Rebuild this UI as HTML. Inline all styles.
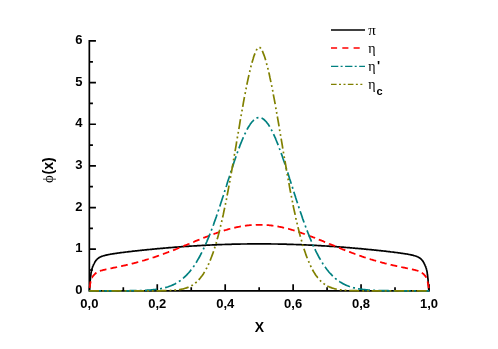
<!DOCTYPE html>
<html><head><meta charset="utf-8"><title>plot</title>
<style>html,body{margin:0;padding:0;background:#fff;}body{width:498px;height:349px;overflow:hidden;position:relative;font-family:"Liberation Sans",sans-serif;}svg{position:absolute;left:0;top:0;display:block;will-change:transform}</style>
</head><body>
<svg width="498" height="349" viewBox="0 0 498 349">
<rect width="498" height="349" fill="#fff"/>
<path d="M89.34,40.11 L89.34,291.69 M88.49,290.84 L429.84,290.84 M89.34,290.84 L95.94,290.84 M89.34,249.19 L95.94,249.19 M89.34,207.55 L95.94,207.55 M89.34,165.90 L95.94,165.90 M89.34,124.25 L95.94,124.25 M89.34,82.61 L95.94,82.61 M89.34,40.96 L95.94,40.96 M89.34,270.02 L92.94,270.02 M89.34,228.37 L92.94,228.37 M89.34,186.72 L92.94,186.72 M89.34,145.08 L92.94,145.08 M89.34,103.43 L92.94,103.43 M89.34,61.78 L92.94,61.78 M89.34,290.84 L89.34,284.24 M123.31,290.84 L123.31,287.24 M157.27,290.84 L157.27,284.24 M191.24,290.84 L191.24,287.24 M225.20,290.84 L225.20,284.24 M259.16,290.84 L259.16,287.24 M293.13,290.84 L293.13,284.24 M327.09,290.84 L327.09,287.24 M361.06,290.84 L361.06,284.24 M395.02,290.84 L395.02,287.24 M428.99,290.84 L428.99,284.24" stroke="#000" stroke-width="1.7" fill="none"/>
<g fill="none" stroke-linejoin="round">
<path d="M89.3,290.8 L89.5,290.4 L89.6,289.1 L89.7,287.3 L89.9,285.4 L90.0,283.7 L90.0,283.2 L90.1,282.0 L90.2,280.5 L90.4,279.1 L90.5,277.8 L90.6,276.6 L90.7,276.0 L90.8,275.5 L90.9,274.5 L91.0,273.5 L91.1,272.7 L91.3,271.9 L91.4,271.4 L91.4,271.2 L91.5,270.6 L91.7,270.0 L91.8,269.5 L91.9,269.0 L92.0,268.6 L92.1,268.5 L92.2,268.1 L92.3,267.8 L92.4,267.4 L92.6,267.0 L92.7,266.7 L92.7,266.6 L92.8,266.4 L93.0,266.1 L93.1,265.8 L93.2,265.5 L93.3,265.2 L93.4,265.0 L93.5,264.9 L93.6,264.6 L93.7,264.4 L93.9,264.1 L94.0,263.8 L94.1,263.6 L94.1,263.6 L94.2,263.3 L94.4,263.1 L94.5,262.8 L94.6,262.6 L94.8,262.4 L94.8,262.3 L94.9,262.1 L95.0,261.9 L95.1,261.7 L95.3,261.5 L95.4,261.3 L95.5,261.2 L95.5,261.1 L95.7,260.9 L95.8,260.7 L95.9,260.6 L96.0,260.4 L96.1,260.3 L96.2,260.2 L96.3,260.1 L96.4,259.9 L96.6,259.8 L96.7,259.6 L96.8,259.5 L96.8,259.5 L96.9,259.3 L97.1,259.2 L97.2,259.1 L97.3,259.0 L97.5,258.8 L97.5,258.8 L97.6,258.7 L97.7,258.6 L97.9,258.5 L98.0,258.4 L98.1,258.3 L98.2,258.3 L98.2,258.2 L98.4,258.1 L98.5,258.0 L98.6,257.9 L98.8,257.9 L98.9,257.8 L98.9,257.8 L99.0,257.7 L99.1,257.6 L99.3,257.5 L99.4,257.5 L99.5,257.4 L100.2,257.0 L100.9,256.7 L101.6,256.4 L102.2,256.2 L102.9,256.0 L103.6,255.8 L104.3,255.6 L105.0,255.4 L105.6,255.2 L106.3,255.1 L107.0,254.9 L107.7,254.8 L108.4,254.6 L109.0,254.5 L109.7,254.4 L110.4,254.2 L111.1,254.1 L111.8,254.0 L112.4,253.9 L113.1,253.8 L113.8,253.7 L114.5,253.6 L115.2,253.5 L115.8,253.4 L116.5,253.3 L117.2,253.2 L117.9,253.1 L118.5,253.0 L119.2,252.9 L119.9,252.8 L120.6,252.7 L121.3,252.6 L121.9,252.5 L122.6,252.5 L123.3,252.4 L124.0,252.3 L124.7,252.2 L125.3,252.1 L126.0,252.0 L126.7,252.0 L127.4,251.9 L128.1,251.8 L128.7,251.7 L129.4,251.6 L130.1,251.6 L130.8,251.5 L131.5,251.4 L132.1,251.3 L132.8,251.2 L133.5,251.2 L134.2,251.1 L134.9,251.0 L135.5,250.9 L136.2,250.9 L136.9,250.8 L137.6,250.7 L138.2,250.6 L138.9,250.6 L139.6,250.5 L140.3,250.4 L141.0,250.4 L141.6,250.3 L142.3,250.2 L143.0,250.1 L143.7,250.1 L144.4,250.0 L145.0,249.9 L145.7,249.9 L146.4,249.8 L147.1,249.7 L147.8,249.7 L148.4,249.6 L149.1,249.5 L149.8,249.5 L150.5,249.4 L151.2,249.3 L151.8,249.3 L152.5,249.2 L153.2,249.1 L153.9,249.1 L154.6,249.0 L155.2,248.9 L155.9,248.9 L156.6,248.8 L157.3,248.7 L157.9,248.7 L158.6,248.6 L159.3,248.6 L160.0,248.5 L160.7,248.4 L161.3,248.4 L162.0,248.3 L162.7,248.3 L163.4,248.2 L164.1,248.1 L164.7,248.1 L165.4,248.0 L166.1,248.0 L166.8,247.9 L167.5,247.9 L168.1,247.8 L168.8,247.7 L169.5,247.7 L170.2,247.6 L170.9,247.6 L171.5,247.5 L172.2,247.5 L172.9,247.4 L173.6,247.4 L174.3,247.3 L174.9,247.2 L175.6,247.2 L176.3,247.1 L177.0,247.1 L177.6,247.0 L178.3,247.0 L179.0,246.9 L179.7,246.9 L180.4,246.8 L181.0,246.8 L181.7,246.7 L182.4,246.7 L183.1,246.6 L183.8,246.6 L184.4,246.5 L185.1,246.5 L185.8,246.4 L186.5,246.4 L187.2,246.4 L187.8,246.3 L188.5,246.3 L189.2,246.2 L189.9,246.2 L190.6,246.1 L191.2,246.1 L191.9,246.0 L192.6,246.0 L193.3,246.0 L194.0,245.9 L194.6,245.9 L195.3,245.8 L196.0,245.8 L196.7,245.8 L197.3,245.7 L198.0,245.7 L198.7,245.6 L199.4,245.6 L200.1,245.6 L200.7,245.5 L201.4,245.5 L202.1,245.4 L202.8,245.4 L203.5,245.4 L204.1,245.3 L204.8,245.3 L205.5,245.3 L206.2,245.2 L206.9,245.2 L207.5,245.2 L208.2,245.1 L208.9,245.1 L209.6,245.1 L210.3,245.0 L210.9,245.0 L211.6,245.0 L212.3,244.9 L213.0,244.9 L213.7,244.9 L214.3,244.9 L215.0,244.8 L215.7,244.8 L216.4,244.8 L217.0,244.7 L217.7,244.7 L218.4,244.7 L219.1,244.7 L219.8,244.6 L220.4,244.6 L221.1,244.6 L221.8,244.6 L222.5,244.5 L223.2,244.5 L223.8,244.5 L224.5,244.5 L225.2,244.4 L225.9,244.4 L226.6,244.4 L227.2,244.4 L227.9,244.4 L228.6,244.3 L229.3,244.3 L230.0,244.3 L230.6,244.3 L231.3,244.3 L232.0,244.2 L232.7,244.2 L233.4,244.2 L234.0,244.2 L234.7,244.2 L235.4,244.2 L236.1,244.1 L236.7,244.1 L237.4,244.1 L238.1,244.1 L238.8,244.1 L239.5,244.1 L240.1,244.1 L240.8,244.0 L241.5,244.0 L242.2,244.0 L242.9,244.0 L243.5,244.0 L244.2,244.0 L244.9,244.0 L245.6,244.0 L246.3,244.0 L246.9,244.0 L247.6,243.9 L248.3,243.9 L249.0,243.9 L249.7,243.9 L250.3,243.9 L251.0,243.9 L251.7,243.9 L252.4,243.9 L253.1,243.9 L253.7,243.9 L254.4,243.9 L255.1,243.9 L255.8,243.9 L256.4,243.9 L257.1,243.9 L257.8,243.9 L258.5,243.9 L259.2,243.9 L259.8,243.9 L260.5,243.9 L261.2,243.9 L261.9,243.9 L262.6,243.9 L263.2,243.9 L263.9,243.9 L264.6,243.9 L265.3,243.9 L266.0,243.9 L266.6,243.9 L267.3,243.9 L268.0,243.9 L268.7,243.9 L269.4,243.9 L270.0,243.9 L270.7,243.9 L271.4,244.0 L272.1,244.0 L272.8,244.0 L273.4,244.0 L274.1,244.0 L274.8,244.0 L275.5,244.0 L276.1,244.0 L276.8,244.0 L277.5,244.0 L278.2,244.1 L278.9,244.1 L279.5,244.1 L280.2,244.1 L280.9,244.1 L281.6,244.1 L282.3,244.1 L282.9,244.2 L283.6,244.2 L284.3,244.2 L285.0,244.2 L285.7,244.2 L286.3,244.2 L287.0,244.3 L287.7,244.3 L288.4,244.3 L289.1,244.3 L289.7,244.3 L290.4,244.4 L291.1,244.4 L291.8,244.4 L292.5,244.4 L293.1,244.4 L293.8,244.5 L294.5,244.5 L295.2,244.5 L295.8,244.5 L296.5,244.6 L297.2,244.6 L297.9,244.6 L298.6,244.6 L299.2,244.7 L299.9,244.7 L300.6,244.7 L301.3,244.7 L302.0,244.8 L302.6,244.8 L303.3,244.8 L304.0,244.9 L304.7,244.9 L305.4,244.9 L306.0,244.9 L306.7,245.0 L307.4,245.0 L308.1,245.0 L308.8,245.1 L309.4,245.1 L310.1,245.1 L310.8,245.2 L311.5,245.2 L312.2,245.2 L312.8,245.3 L313.5,245.3 L314.2,245.3 L314.9,245.4 L315.5,245.4 L316.2,245.4 L316.9,245.5 L317.6,245.5 L318.3,245.6 L318.9,245.6 L319.6,245.6 L320.3,245.7 L321.0,245.7 L321.7,245.8 L322.3,245.8 L323.0,245.8 L323.7,245.9 L324.4,245.9 L325.1,246.0 L325.7,246.0 L326.4,246.0 L327.1,246.1 L327.8,246.1 L328.5,246.2 L329.1,246.2 L329.8,246.3 L330.5,246.3 L331.2,246.4 L331.9,246.4 L332.5,246.4 L333.2,246.5 L333.9,246.5 L334.6,246.6 L335.2,246.6 L335.9,246.7 L336.6,246.7 L337.3,246.8 L338.0,246.8 L338.6,246.9 L339.3,246.9 L340.0,247.0 L340.7,247.0 L341.4,247.1 L342.0,247.1 L342.7,247.2 L343.4,247.2 L344.1,247.3 L344.8,247.4 L345.4,247.4 L346.1,247.5 L346.8,247.5 L347.5,247.6 L348.2,247.6 L348.8,247.7 L349.5,247.7 L350.2,247.8 L350.9,247.9 L351.5,247.9 L352.2,248.0 L352.9,248.0 L353.6,248.1 L354.3,248.1 L354.9,248.2 L355.6,248.3 L356.3,248.3 L357.0,248.4 L357.7,248.4 L358.3,248.5 L359.0,248.6 L359.7,248.6 L360.4,248.7 L361.1,248.7 L361.7,248.8 L362.4,248.9 L363.1,248.9 L363.8,249.0 L364.5,249.1 L365.1,249.1 L365.8,249.2 L366.5,249.3 L367.2,249.3 L367.9,249.4 L368.5,249.5 L369.2,249.5 L369.9,249.6 L370.6,249.7 L371.2,249.7 L371.9,249.8 L372.6,249.9 L373.3,249.9 L374.0,250.0 L374.6,250.1 L375.3,250.1 L376.0,250.2 L376.7,250.3 L377.4,250.4 L378.0,250.4 L378.7,250.5 L379.4,250.6 L380.1,250.6 L380.8,250.7 L381.4,250.8 L382.1,250.9 L382.8,250.9 L383.5,251.0 L384.2,251.1 L384.8,251.2 L385.5,251.2 L386.2,251.3 L386.9,251.4 L387.6,251.5 L388.2,251.6 L388.9,251.6 L389.6,251.7 L390.3,251.8 L390.9,251.9 L391.6,252.0 L392.3,252.0 L393.0,252.1 L393.7,252.2 L394.3,252.3 L395.0,252.4 L395.7,252.5 L396.4,252.5 L397.1,252.6 L397.7,252.7 L398.4,252.8 L399.1,252.9 L399.8,253.0 L400.5,253.1 L401.1,253.2 L401.8,253.3 L402.5,253.4 L403.2,253.5 L403.9,253.6 L404.5,253.7 L405.2,253.8 L405.9,253.9 L406.6,254.0 L407.3,254.1 L407.9,254.2 L408.6,254.4 L409.3,254.5 L410.0,254.6 L410.6,254.8 L411.3,254.9 L412.0,255.1 L412.7,255.2 L413.4,255.4 L414.0,255.6 L414.7,255.8 L415.4,256.0 L416.1,256.2 L416.8,256.4 L417.4,256.7 L418.1,257.0 L418.8,257.4 L418.9,257.5 L419.1,257.5 L419.2,257.6 L419.3,257.7 L419.4,257.8 L419.5,257.8 L419.6,257.9 L419.7,257.9 L419.8,258.0 L420.0,258.1 L420.1,258.2 L420.2,258.3 L420.2,258.3 L420.3,258.4 L420.5,258.5 L420.6,258.6 L420.7,258.7 L420.8,258.8 L420.9,258.8 L421.0,259.0 L421.1,259.1 L421.3,259.2 L421.4,259.3 L421.5,259.5 L421.5,259.5 L421.6,259.6 L421.8,259.8 L421.9,259.9 L422.0,260.1 L422.2,260.2 L422.2,260.3 L422.3,260.4 L422.4,260.6 L422.5,260.7 L422.7,260.9 L422.8,261.1 L422.9,261.2 L422.9,261.3 L423.1,261.5 L423.2,261.7 L423.3,261.9 L423.4,262.1 L423.6,262.3 L423.6,262.4 L423.7,262.6 L423.8,262.8 L424.0,263.1 L424.1,263.3 L424.2,263.6 L424.2,263.6 L424.3,263.8 L424.5,264.1 L424.6,264.4 L424.7,264.6 L424.9,264.9 L424.9,265.0 L425.0,265.2 L425.1,265.5 L425.2,265.8 L425.4,266.1 L425.5,266.4 L425.6,266.6 L425.6,266.7 L425.8,267.0 L425.9,267.4 L426.0,267.8 L426.2,268.1 L426.3,268.5 L426.3,268.6 L426.4,269.0 L426.5,269.5 L426.7,270.0 L426.8,270.6 L426.9,271.2 L427.0,271.4 L427.1,271.9 L427.2,272.7 L427.3,273.5 L427.4,274.5 L427.6,275.5 L427.6,276.0 L427.7,276.6 L427.8,277.8 L428.0,279.1 L428.1,280.5 L428.2,282.0 L428.3,283.2 L428.3,283.7 L428.5,285.4 L428.6,287.3 L428.7,289.1 L428.9,290.4 L429.0,290.8" stroke="#000" stroke-width="1.7"/>
<path d="M89.3,289.3 L89.5,289.0 L89.6,288.3 L89.7,287.4 L89.9,286.4 L90.0,285.5 L90.0,285.3 L90.1,284.6 L90.2,283.8 L90.4,283.1 L90.5,282.4 L90.6,281.8 L90.7,281.4 L90.8,281.2 L90.9,280.7 L91.0,280.2 L91.1,279.7 L91.3,279.3 L91.4,279.0 L91.4,278.9 L91.5,278.6 L91.7,278.3 L91.8,278.0 L91.9,277.8 L92.0,277.5 L92.1,277.5 L92.2,277.3 L92.3,277.1 L92.4,276.9 L92.6,276.7 L92.7,276.5 L92.7,276.4 L92.8,276.3 L93.0,276.2 L93.1,276.0 L93.2,275.8 L93.3,275.7 L93.4,275.6 L93.5,275.5 L93.6,275.4 L93.7,275.2 L93.9,275.1 L94.0,274.9 L94.1,274.8 L94.1,274.8 L94.2,274.6 L94.4,274.5 L94.5,274.4 L94.6,274.2 L94.8,274.1 L94.8,274.1 L94.9,274.0 L95.0,273.8 L95.1,273.7 L95.3,273.6 L95.4,273.5 L95.5,273.5 L95.5,273.4 L95.7,273.3 L95.8,273.2 L95.9,273.1 L96.0,273.0 L96.1,272.9 L96.2,272.9 L96.3,272.8 L96.4,272.7 L96.6,272.6 L96.7,272.5 L96.8,272.4 L96.8,272.4 L96.9,272.4 L97.1,272.3 L97.2,272.2 L97.3,272.1 L97.5,272.1 L97.5,272.0 L97.6,272.0 L97.7,271.9 L97.9,271.9 L98.0,271.8 L98.1,271.7 L98.2,271.7 L98.2,271.7 L98.4,271.6 L98.5,271.6 L98.6,271.5 L98.8,271.4 L98.9,271.4 L98.9,271.4 L99.0,271.3 L99.1,271.3 L99.3,271.2 L99.4,271.2 L99.5,271.1 L100.2,270.9 L100.9,270.7 L101.6,270.5 L102.2,270.3 L102.9,270.1 L103.6,269.9 L104.3,269.8 L105.0,269.6 L105.6,269.5 L106.3,269.3 L107.0,269.2 L107.7,269.0 L108.4,268.9 L109.0,268.7 L109.7,268.6 L110.4,268.4 L111.1,268.3 L111.8,268.2 L112.4,268.0 L113.1,267.9 L113.8,267.7 L114.5,267.6 L115.2,267.5 L115.8,267.3 L116.5,267.2 L117.2,267.0 L117.9,266.9 L118.5,266.8 L119.2,266.6 L119.9,266.5 L120.6,266.3 L121.3,266.2 L121.9,266.0 L122.6,265.9 L123.3,265.7 L124.0,265.6 L124.7,265.4 L125.3,265.3 L126.0,265.1 L126.7,264.9 L127.4,264.8 L128.1,264.6 L128.7,264.5 L129.4,264.3 L130.1,264.1 L130.8,264.0 L131.5,263.8 L132.1,263.6 L132.8,263.5 L133.5,263.3 L134.2,263.1 L134.9,262.9 L135.5,262.8 L136.2,262.6 L136.9,262.4 L137.6,262.2 L138.2,262.0 L138.9,261.8 L139.6,261.6 L140.3,261.5 L141.0,261.3 L141.6,261.1 L142.3,260.9 L143.0,260.7 L143.7,260.5 L144.4,260.3 L145.0,260.1 L145.7,259.9 L146.4,259.7 L147.1,259.5 L147.8,259.3 L148.4,259.0 L149.1,258.8 L149.8,258.6 L150.5,258.4 L151.2,258.2 L151.8,258.0 L152.5,257.7 L153.2,257.5 L153.9,257.3 L154.6,257.1 L155.2,256.8 L155.9,256.6 L156.6,256.4 L157.3,256.1 L157.9,255.9 L158.6,255.7 L159.3,255.4 L160.0,255.2 L160.7,255.0 L161.3,254.7 L162.0,254.5 L162.7,254.2 L163.4,254.0 L164.1,253.7 L164.7,253.5 L165.4,253.2 L166.1,253.0 L166.8,252.7 L167.5,252.5 L168.1,252.2 L168.8,251.9 L169.5,251.7 L170.2,251.4 L170.9,251.2 L171.5,250.9 L172.2,250.6 L172.9,250.4 L173.6,250.1 L174.3,249.8 L174.9,249.6 L175.6,249.3 L176.3,249.0 L177.0,248.8 L177.6,248.5 L178.3,248.2 L179.0,247.9 L179.7,247.7 L180.4,247.4 L181.0,247.1 L181.7,246.8 L182.4,246.6 L183.1,246.3 L183.8,246.0 L184.4,245.7 L185.1,245.4 L185.8,245.2 L186.5,244.9 L187.2,244.6 L187.8,244.3 L188.5,244.0 L189.2,243.8 L189.9,243.5 L190.6,243.2 L191.2,242.9 L191.9,242.6 L192.6,242.3 L193.3,242.1 L194.0,241.8 L194.6,241.5 L195.3,241.2 L196.0,240.9 L196.7,240.7 L197.3,240.4 L198.0,240.1 L198.7,239.8 L199.4,239.6 L200.1,239.3 L200.7,239.0 L201.4,238.7 L202.1,238.5 L202.8,238.2 L203.5,237.9 L204.1,237.6 L204.8,237.4 L205.5,237.1 L206.2,236.8 L206.9,236.6 L207.5,236.3 L208.2,236.1 L208.9,235.8 L209.6,235.5 L210.3,235.3 L210.9,235.0 L211.6,234.8 L212.3,234.5 L213.0,234.3 L213.7,234.0 L214.3,233.8 L215.0,233.5 L215.7,233.3 L216.4,233.1 L217.0,232.8 L217.7,232.6 L218.4,232.4 L219.1,232.1 L219.8,231.9 L220.4,231.7 L221.1,231.5 L221.8,231.2 L222.5,231.0 L223.2,230.8 L223.8,230.6 L224.5,230.4 L225.2,230.2 L225.9,230.0 L226.6,229.8 L227.2,229.6 L227.9,229.4 L228.6,229.2 L229.3,229.0 L230.0,228.8 L230.6,228.7 L231.3,228.5 L232.0,228.3 L232.7,228.1 L233.4,228.0 L234.0,227.8 L234.7,227.7 L235.4,227.5 L236.1,227.4 L236.7,227.2 L237.4,227.1 L238.1,226.9 L238.8,226.8 L239.5,226.7 L240.1,226.5 L240.8,226.4 L241.5,226.3 L242.2,226.2 L242.9,226.1 L243.5,226.0 L244.2,225.9 L244.9,225.8 L245.6,225.7 L246.3,225.6 L246.9,225.5 L247.6,225.4 L248.3,225.4 L249.0,225.3 L249.7,225.2 L250.3,225.2 L251.0,225.1 L251.7,225.1 L252.4,225.0 L253.1,225.0 L253.7,224.9 L254.4,224.9 L255.1,224.9 L255.8,224.8 L256.4,224.8 L257.1,224.8 L257.8,224.8 L258.5,224.8 L259.2,224.8 L259.8,224.8 L260.5,224.8 L261.2,224.8 L261.9,224.8 L262.6,224.8 L263.2,224.9 L263.9,224.9 L264.6,224.9 L265.3,225.0 L266.0,225.0 L266.6,225.1 L267.3,225.1 L268.0,225.2 L268.7,225.2 L269.4,225.3 L270.0,225.4 L270.7,225.4 L271.4,225.5 L272.1,225.6 L272.8,225.7 L273.4,225.8 L274.1,225.9 L274.8,226.0 L275.5,226.1 L276.1,226.2 L276.8,226.3 L277.5,226.4 L278.2,226.5 L278.9,226.7 L279.5,226.8 L280.2,226.9 L280.9,227.1 L281.6,227.2 L282.3,227.4 L282.9,227.5 L283.6,227.7 L284.3,227.8 L285.0,228.0 L285.7,228.1 L286.3,228.3 L287.0,228.5 L287.7,228.7 L288.4,228.8 L289.1,229.0 L289.7,229.2 L290.4,229.4 L291.1,229.6 L291.8,229.8 L292.5,230.0 L293.1,230.2 L293.8,230.4 L294.5,230.6 L295.2,230.8 L295.8,231.0 L296.5,231.2 L297.2,231.5 L297.9,231.7 L298.6,231.9 L299.2,232.1 L299.9,232.4 L300.6,232.6 L301.3,232.8 L302.0,233.1 L302.6,233.3 L303.3,233.5 L304.0,233.8 L304.7,234.0 L305.4,234.3 L306.0,234.5 L306.7,234.8 L307.4,235.0 L308.1,235.3 L308.8,235.5 L309.4,235.8 L310.1,236.1 L310.8,236.3 L311.5,236.6 L312.2,236.8 L312.8,237.1 L313.5,237.4 L314.2,237.6 L314.9,237.9 L315.5,238.2 L316.2,238.5 L316.9,238.7 L317.6,239.0 L318.3,239.3 L318.9,239.6 L319.6,239.8 L320.3,240.1 L321.0,240.4 L321.7,240.7 L322.3,240.9 L323.0,241.2 L323.7,241.5 L324.4,241.8 L325.1,242.1 L325.7,242.3 L326.4,242.6 L327.1,242.9 L327.8,243.2 L328.5,243.5 L329.1,243.8 L329.8,244.0 L330.5,244.3 L331.2,244.6 L331.9,244.9 L332.5,245.2 L333.2,245.4 L333.9,245.7 L334.6,246.0 L335.2,246.3 L335.9,246.6 L336.6,246.8 L337.3,247.1 L338.0,247.4 L338.6,247.7 L339.3,247.9 L340.0,248.2 L340.7,248.5 L341.4,248.8 L342.0,249.0 L342.7,249.3 L343.4,249.6 L344.1,249.8 L344.8,250.1 L345.4,250.4 L346.1,250.6 L346.8,250.9 L347.5,251.2 L348.2,251.4 L348.8,251.7 L349.5,251.9 L350.2,252.2 L350.9,252.5 L351.5,252.7 L352.2,253.0 L352.9,253.2 L353.6,253.5 L354.3,253.7 L354.9,254.0 L355.6,254.2 L356.3,254.5 L357.0,254.7 L357.7,255.0 L358.3,255.2 L359.0,255.4 L359.7,255.7 L360.4,255.9 L361.1,256.1 L361.7,256.4 L362.4,256.6 L363.1,256.8 L363.8,257.1 L364.5,257.3 L365.1,257.5 L365.8,257.7 L366.5,258.0 L367.2,258.2 L367.9,258.4 L368.5,258.6 L369.2,258.8 L369.9,259.0 L370.6,259.3 L371.2,259.5 L371.9,259.7 L372.6,259.9 L373.3,260.1 L374.0,260.3 L374.6,260.5 L375.3,260.7 L376.0,260.9 L376.7,261.1 L377.4,261.3 L378.0,261.5 L378.7,261.6 L379.4,261.8 L380.1,262.0 L380.8,262.2 L381.4,262.4 L382.1,262.6 L382.8,262.8 L383.5,262.9 L384.2,263.1 L384.8,263.3 L385.5,263.5 L386.2,263.6 L386.9,263.8 L387.6,264.0 L388.2,264.1 L388.9,264.3 L389.6,264.5 L390.3,264.6 L390.9,264.8 L391.6,264.9 L392.3,265.1 L393.0,265.3 L393.7,265.4 L394.3,265.6 L395.0,265.7 L395.7,265.9 L396.4,266.0 L397.1,266.2 L397.7,266.3 L398.4,266.5 L399.1,266.6 L399.8,266.8 L400.5,266.9 L401.1,267.0 L401.8,267.2 L402.5,267.3 L403.2,267.5 L403.9,267.6 L404.5,267.7 L405.2,267.9 L405.9,268.0 L406.6,268.2 L407.3,268.3 L407.9,268.4 L408.6,268.6 L409.3,268.7 L410.0,268.9 L410.6,269.0 L411.3,269.2 L412.0,269.3 L412.7,269.5 L413.4,269.6 L414.0,269.8 L414.7,269.9 L415.4,270.1 L416.1,270.3 L416.8,270.5 L417.4,270.7 L418.1,270.9 L418.8,271.1 L418.9,271.2 L419.1,271.2 L419.2,271.3 L419.3,271.3 L419.4,271.4 L419.5,271.4 L419.6,271.4 L419.7,271.5 L419.8,271.6 L420.0,271.6 L420.1,271.7 L420.2,271.7 L420.2,271.7 L420.3,271.8 L420.5,271.9 L420.6,271.9 L420.7,272.0 L420.8,272.0 L420.9,272.1 L421.0,272.1 L421.1,272.2 L421.3,272.3 L421.4,272.4 L421.5,272.4 L421.5,272.4 L421.6,272.5 L421.8,272.6 L421.9,272.7 L422.0,272.8 L422.2,272.9 L422.2,272.9 L422.3,273.0 L422.4,273.1 L422.5,273.2 L422.7,273.3 L422.8,273.4 L422.9,273.5 L422.9,273.5 L423.1,273.6 L423.2,273.7 L423.3,273.8 L423.4,274.0 L423.6,274.1 L423.6,274.1 L423.7,274.2 L423.8,274.4 L424.0,274.5 L424.1,274.6 L424.2,274.8 L424.2,274.8 L424.3,274.9 L424.5,275.1 L424.6,275.2 L424.7,275.4 L424.9,275.5 L424.9,275.6 L425.0,275.7 L425.1,275.8 L425.2,276.0 L425.4,276.2 L425.5,276.3 L425.6,276.4 L425.6,276.5 L425.8,276.7 L425.9,276.9 L426.0,277.1 L426.2,277.3 L426.3,277.5 L426.3,277.5 L426.4,277.8 L426.5,278.0 L426.7,278.3 L426.8,278.6 L426.9,278.9 L427.0,279.0 L427.1,279.3 L427.2,279.7 L427.3,280.2 L427.4,280.7 L427.6,281.2 L427.6,281.4 L427.7,281.8 L427.8,282.4 L428.0,283.1 L428.1,283.8 L428.2,284.6 L428.3,285.3 L428.3,285.5 L428.5,286.4 L428.6,287.4 L428.7,288.3 L428.9,289.0 L429.0,289.3" stroke="#ff0000" stroke-width="1.8" stroke-dasharray="6.8 4.1" stroke-dashoffset="9.5"/>
<path d="M89.3,290.8 L89.5,290.8 L89.6,290.8 L89.7,290.8 L89.9,290.8 L90.0,290.8 L90.0,290.8 L90.1,290.8 L90.2,290.8 L90.4,290.8 L90.5,290.8 L90.6,290.8 L90.7,290.8 L90.8,290.8 L90.9,290.8 L91.0,290.8 L91.1,290.8 L91.3,290.8 L91.4,290.8 L91.4,290.8 L91.5,290.8 L91.7,290.8 L91.8,290.8 L91.9,290.8 L92.0,290.8 L92.1,290.8 L92.2,290.8 L92.3,290.8 L92.4,290.8 L92.6,290.8 L92.7,290.8 L92.7,290.8 L92.8,290.8 L93.0,290.8 L93.1,290.8 L93.2,290.8 L93.3,290.8 L93.4,290.8 L93.5,290.8 L93.6,290.8 L93.7,290.8 L93.9,290.8 L94.0,290.8 L94.1,290.8 L94.1,290.8 L94.2,290.8 L94.4,290.8 L94.5,290.8 L94.6,290.8 L94.8,290.8 L94.8,290.8 L94.9,290.8 L95.0,290.8 L95.1,290.8 L95.3,290.8 L95.4,290.8 L95.5,290.8 L95.5,290.8 L95.7,290.8 L95.8,290.8 L95.9,290.8 L96.0,290.8 L96.1,290.8 L96.2,290.8 L96.3,290.8 L96.4,290.8 L96.6,290.8 L96.7,290.8 L96.8,290.8 L96.8,290.8 L96.9,290.8 L97.1,290.8 L97.2,290.8 L97.3,290.8 L97.5,290.8 L97.5,290.8 L97.6,290.8 L97.7,290.8 L97.9,290.8 L98.0,290.8 L98.1,290.8 L98.2,290.8 L98.2,290.8 L98.4,290.8 L98.5,290.8 L98.6,290.8 L98.8,290.8 L98.9,290.8 L98.9,290.8 L99.0,290.8 L99.1,290.8 L99.3,290.8 L99.4,290.8 L99.5,290.8 L100.2,290.8 L100.9,290.8 L101.6,290.8 L102.2,290.8 L102.9,290.8 L103.6,290.8 L104.3,290.8 L105.0,290.8 L105.6,290.8 L106.3,290.8 L107.0,290.8 L107.7,290.8 L108.4,290.8 L109.0,290.8 L109.7,290.8 L110.4,290.8 L111.1,290.8 L111.8,290.8 L112.4,290.8 L113.1,290.8 L113.8,290.8 L114.5,290.8 L115.2,290.8 L115.8,290.8 L116.5,290.8 L117.2,290.8 L117.9,290.8 L118.5,290.8 L119.2,290.8 L119.9,290.8 L120.6,290.8 L121.3,290.8 L121.9,290.8 L122.6,290.8 L123.3,290.8 L124.0,290.8 L124.7,290.8 L125.3,290.8 L126.0,290.8 L126.7,290.8 L127.4,290.8 L128.1,290.8 L128.7,290.8 L129.4,290.8 L130.1,290.7 L130.8,290.7 L131.5,290.7 L132.1,290.7 L132.8,290.7 L133.5,290.7 L134.2,290.7 L134.9,290.7 L135.5,290.7 L136.2,290.6 L136.9,290.6 L137.6,290.6 L138.2,290.6 L138.9,290.6 L139.6,290.6 L140.3,290.5 L141.0,290.5 L141.6,290.5 L142.3,290.5 L143.0,290.4 L143.7,290.4 L144.4,290.4 L145.0,290.3 L145.7,290.3 L146.4,290.3 L147.1,290.2 L147.8,290.2 L148.4,290.1 L149.1,290.1 L149.8,290.1 L150.5,290.0 L151.2,289.9 L151.8,289.9 L152.5,289.8 L153.2,289.7 L153.9,289.7 L154.6,289.6 L155.2,289.5 L155.9,289.4 L156.6,289.3 L157.3,289.2 L157.9,289.1 L158.6,289.0 L159.3,288.9 L160.0,288.8 L160.7,288.7 L161.3,288.5 L162.0,288.4 L162.7,288.3 L163.4,288.1 L164.1,287.9 L164.7,287.8 L165.4,287.6 L166.1,287.4 L166.8,287.2 L167.5,287.0 L168.1,286.8 L168.8,286.5 L169.5,286.3 L170.2,286.0 L170.9,285.8 L171.5,285.5 L172.2,285.2 L172.9,284.9 L173.6,284.6 L174.3,284.2 L174.9,283.9 L175.6,283.5 L176.3,283.1 L177.0,282.7 L177.6,282.3 L178.3,281.9 L179.0,281.4 L179.7,281.0 L180.4,280.5 L181.0,280.0 L181.7,279.5 L182.4,278.9 L183.1,278.3 L183.8,277.7 L184.4,277.1 L185.1,276.5 L185.8,275.8 L186.5,275.2 L187.2,274.4 L187.8,273.7 L188.5,273.0 L189.2,272.2 L189.9,271.4 L190.6,270.5 L191.2,269.7 L191.9,268.8 L192.6,267.8 L193.3,266.9 L194.0,265.9 L194.6,264.9 L195.3,263.9 L196.0,262.8 L196.7,261.7 L197.3,260.6 L198.0,259.4 L198.7,258.2 L199.4,257.0 L200.1,255.8 L200.7,254.5 L201.4,253.2 L202.1,251.8 L202.8,250.4 L203.5,249.0 L204.1,247.6 L204.8,246.1 L205.5,244.6 L206.2,243.0 L206.9,241.5 L207.5,239.9 L208.2,238.3 L208.9,236.6 L209.6,234.9 L210.3,233.2 L210.9,231.4 L211.6,229.7 L212.3,227.9 L213.0,226.0 L213.7,224.2 L214.3,222.3 L215.0,220.4 L215.7,218.5 L216.4,216.5 L217.0,214.5 L217.7,212.5 L218.4,210.5 L219.1,208.5 L219.8,206.5 L220.4,204.4 L221.1,202.3 L221.8,200.2 L222.5,198.1 L223.2,196.0 L223.8,193.9 L224.5,191.8 L225.2,189.7 L225.9,187.5 L226.6,185.4 L227.2,183.3 L227.9,181.1 L228.6,179.0 L229.3,176.9 L230.0,174.7 L230.6,172.6 L231.3,170.5 L232.0,168.4 L232.7,166.4 L233.4,164.3 L234.0,162.3 L234.7,160.3 L235.4,158.3 L236.1,156.3 L236.7,154.4 L237.4,152.5 L238.1,150.6 L238.8,148.7 L239.5,146.9 L240.1,145.1 L240.8,143.4 L241.5,141.7 L242.2,140.0 L242.9,138.4 L243.5,136.9 L244.2,135.3 L244.9,133.9 L245.6,132.5 L246.3,131.1 L246.9,129.8 L247.6,128.5 L248.3,127.3 L249.0,126.2 L249.7,125.1 L250.3,124.1 L251.0,123.2 L251.7,122.3 L252.4,121.5 L253.1,120.8 L253.7,120.1 L254.4,119.5 L255.1,119.0 L255.8,118.6 L256.4,118.2 L257.1,117.9 L257.8,117.7 L258.5,117.6 L259.2,117.5 L259.8,117.6 L260.5,117.7 L261.2,117.9 L261.9,118.2 L262.6,118.6 L263.2,119.0 L263.9,119.5 L264.6,120.1 L265.3,120.8 L266.0,121.5 L266.6,122.3 L267.3,123.2 L268.0,124.1 L268.7,125.1 L269.4,126.2 L270.0,127.3 L270.7,128.5 L271.4,129.8 L272.1,131.1 L272.8,132.5 L273.4,133.9 L274.1,135.3 L274.8,136.9 L275.5,138.4 L276.1,140.0 L276.8,141.7 L277.5,143.4 L278.2,145.1 L278.9,146.9 L279.5,148.7 L280.2,150.6 L280.9,152.5 L281.6,154.4 L282.3,156.3 L282.9,158.3 L283.6,160.3 L284.3,162.3 L285.0,164.3 L285.7,166.4 L286.3,168.4 L287.0,170.5 L287.7,172.6 L288.4,174.7 L289.1,176.9 L289.7,179.0 L290.4,181.1 L291.1,183.3 L291.8,185.4 L292.5,187.5 L293.1,189.7 L293.8,191.8 L294.5,193.9 L295.2,196.0 L295.8,198.1 L296.5,200.2 L297.2,202.3 L297.9,204.4 L298.6,206.5 L299.2,208.5 L299.9,210.5 L300.6,212.5 L301.3,214.5 L302.0,216.5 L302.6,218.5 L303.3,220.4 L304.0,222.3 L304.7,224.2 L305.4,226.0 L306.0,227.9 L306.7,229.7 L307.4,231.4 L308.1,233.2 L308.8,234.9 L309.4,236.6 L310.1,238.3 L310.8,239.9 L311.5,241.5 L312.2,243.0 L312.8,244.6 L313.5,246.1 L314.2,247.6 L314.9,249.0 L315.5,250.4 L316.2,251.8 L316.9,253.2 L317.6,254.5 L318.3,255.8 L318.9,257.0 L319.6,258.2 L320.3,259.4 L321.0,260.6 L321.7,261.7 L322.3,262.8 L323.0,263.9 L323.7,264.9 L324.4,265.9 L325.1,266.9 L325.7,267.8 L326.4,268.8 L327.1,269.7 L327.8,270.5 L328.5,271.4 L329.1,272.2 L329.8,273.0 L330.5,273.7 L331.2,274.4 L331.9,275.2 L332.5,275.8 L333.2,276.5 L333.9,277.1 L334.6,277.7 L335.2,278.3 L335.9,278.9 L336.6,279.5 L337.3,280.0 L338.0,280.5 L338.6,281.0 L339.3,281.4 L340.0,281.9 L340.7,282.3 L341.4,282.7 L342.0,283.1 L342.7,283.5 L343.4,283.9 L344.1,284.2 L344.8,284.6 L345.4,284.9 L346.1,285.2 L346.8,285.5 L347.5,285.8 L348.2,286.0 L348.8,286.3 L349.5,286.5 L350.2,286.8 L350.9,287.0 L351.5,287.2 L352.2,287.4 L352.9,287.6 L353.6,287.8 L354.3,287.9 L354.9,288.1 L355.6,288.3 L356.3,288.4 L357.0,288.5 L357.7,288.7 L358.3,288.8 L359.0,288.9 L359.7,289.0 L360.4,289.1 L361.1,289.2 L361.7,289.3 L362.4,289.4 L363.1,289.5 L363.8,289.6 L364.5,289.7 L365.1,289.7 L365.8,289.8 L366.5,289.9 L367.2,289.9 L367.9,290.0 L368.5,290.1 L369.2,290.1 L369.9,290.1 L370.6,290.2 L371.2,290.2 L371.9,290.3 L372.6,290.3 L373.3,290.3 L374.0,290.4 L374.6,290.4 L375.3,290.4 L376.0,290.5 L376.7,290.5 L377.4,290.5 L378.0,290.5 L378.7,290.6 L379.4,290.6 L380.1,290.6 L380.8,290.6 L381.4,290.6 L382.1,290.6 L382.8,290.7 L383.5,290.7 L384.2,290.7 L384.8,290.7 L385.5,290.7 L386.2,290.7 L386.9,290.7 L387.6,290.7 L388.2,290.7 L388.9,290.8 L389.6,290.8 L390.3,290.8 L390.9,290.8 L391.6,290.8 L392.3,290.8 L393.0,290.8 L393.7,290.8 L394.3,290.8 L395.0,290.8 L395.7,290.8 L396.4,290.8 L397.1,290.8 L397.7,290.8 L398.4,290.8 L399.1,290.8 L399.8,290.8 L400.5,290.8 L401.1,290.8 L401.8,290.8 L402.5,290.8 L403.2,290.8 L403.9,290.8 L404.5,290.8 L405.2,290.8 L405.9,290.8 L406.6,290.8 L407.3,290.8 L407.9,290.8 L408.6,290.8 L409.3,290.8 L410.0,290.8 L410.6,290.8 L411.3,290.8 L412.0,290.8 L412.7,290.8 L413.4,290.8 L414.0,290.8 L414.7,290.8 L415.4,290.8 L416.1,290.8 L416.8,290.8 L417.4,290.8 L418.1,290.8 L418.8,290.8 L418.9,290.8 L419.1,290.8 L419.2,290.8 L419.3,290.8 L419.4,290.8 L419.5,290.8 L419.6,290.8 L419.7,290.8 L419.8,290.8 L420.0,290.8 L420.1,290.8 L420.2,290.8 L420.2,290.8 L420.3,290.8 L420.5,290.8 L420.6,290.8 L420.7,290.8 L420.8,290.8 L420.9,290.8 L421.0,290.8 L421.1,290.8 L421.3,290.8 L421.4,290.8 L421.5,290.8 L421.5,290.8 L421.6,290.8 L421.8,290.8 L421.9,290.8 L422.0,290.8 L422.2,290.8 L422.2,290.8 L422.3,290.8 L422.4,290.8 L422.5,290.8 L422.7,290.8 L422.8,290.8 L422.9,290.8 L422.9,290.8 L423.1,290.8 L423.2,290.8 L423.3,290.8 L423.4,290.8 L423.6,290.8 L423.6,290.8 L423.7,290.8 L423.8,290.8 L424.0,290.8 L424.1,290.8 L424.2,290.8 L424.2,290.8 L424.3,290.8 L424.5,290.8 L424.6,290.8 L424.7,290.8 L424.9,290.8 L424.9,290.8 L425.0,290.8 L425.1,290.8 L425.2,290.8 L425.4,290.8 L425.5,290.8 L425.6,290.8 L425.6,290.8 L425.8,290.8 L425.9,290.8 L426.0,290.8 L426.2,290.8 L426.3,290.8 L426.3,290.8 L426.4,290.8 L426.5,290.8 L426.7,290.8 L426.8,290.8 L426.9,290.8 L427.0,290.8 L427.1,290.8 L427.2,290.8 L427.3,290.8 L427.4,290.8 L427.6,290.8 L427.6,290.8 L427.7,290.8 L427.8,290.8 L428.0,290.8 L428.1,290.8 L428.2,290.8 L428.3,290.8 L428.3,290.8 L428.5,290.8 L428.6,290.8 L428.7,290.8 L428.9,290.8 L429.0,290.8" stroke="#008080" stroke-width="1.7" stroke-dasharray="12 3.2 2 3.2" stroke-dashoffset="5.5"/>
<path d="M89.3,290.8 L89.5,290.8 L89.6,290.8 L89.7,290.8 L89.9,290.8 L90.0,290.8 L90.0,290.8 L90.1,290.8 L90.2,290.8 L90.4,290.8 L90.5,290.8 L90.6,290.8 L90.7,290.8 L90.8,290.8 L90.9,290.8 L91.0,290.8 L91.1,290.8 L91.3,290.8 L91.4,290.8 L91.4,290.8 L91.5,290.8 L91.7,290.8 L91.8,290.8 L91.9,290.8 L92.0,290.8 L92.1,290.8 L92.2,290.8 L92.3,290.8 L92.4,290.8 L92.6,290.8 L92.7,290.8 L92.7,290.8 L92.8,290.8 L93.0,290.8 L93.1,290.8 L93.2,290.8 L93.3,290.8 L93.4,290.8 L93.5,290.8 L93.6,290.8 L93.7,290.8 L93.9,290.8 L94.0,290.8 L94.1,290.8 L94.1,290.8 L94.2,290.8 L94.4,290.8 L94.5,290.8 L94.6,290.8 L94.8,290.8 L94.8,290.8 L94.9,290.8 L95.0,290.8 L95.1,290.8 L95.3,290.8 L95.4,290.8 L95.5,290.8 L95.5,290.8 L95.7,290.8 L95.8,290.8 L95.9,290.8 L96.0,290.8 L96.1,290.8 L96.2,290.8 L96.3,290.8 L96.4,290.8 L96.6,290.8 L96.7,290.8 L96.8,290.8 L96.8,290.8 L96.9,290.8 L97.1,290.8 L97.2,290.8 L97.3,290.8 L97.5,290.8 L97.5,290.8 L97.6,290.8 L97.7,290.8 L97.9,290.8 L98.0,290.8 L98.1,290.8 L98.2,290.8 L98.2,290.8 L98.4,290.8 L98.5,290.8 L98.6,290.8 L98.8,290.8 L98.9,290.8 L98.9,290.8 L99.0,290.8 L99.1,290.8 L99.3,290.8 L99.4,290.8 L99.5,290.8 L100.2,290.8 L100.9,290.8 L101.6,290.8 L102.2,290.8 L102.9,290.8 L103.6,290.8 L104.3,290.8 L105.0,290.8 L105.6,290.8 L106.3,290.8 L107.0,290.8 L107.7,290.8 L108.4,290.8 L109.0,290.8 L109.7,290.8 L110.4,290.8 L111.1,290.8 L111.8,290.8 L112.4,290.8 L113.1,290.8 L113.8,290.8 L114.5,290.8 L115.2,290.8 L115.8,290.8 L116.5,290.8 L117.2,290.8 L117.9,290.8 L118.5,290.8 L119.2,290.8 L119.9,290.8 L120.6,290.8 L121.3,290.8 L121.9,290.8 L122.6,290.8 L123.3,290.8 L124.0,290.8 L124.7,290.8 L125.3,290.8 L126.0,290.8 L126.7,290.8 L127.4,290.8 L128.1,290.8 L128.7,290.8 L129.4,290.8 L130.1,290.8 L130.8,290.8 L131.5,290.8 L132.1,290.8 L132.8,290.8 L133.5,290.8 L134.2,290.8 L134.9,290.8 L135.5,290.8 L136.2,290.8 L136.9,290.8 L137.6,290.8 L138.2,290.8 L138.9,290.8 L139.6,290.8 L140.3,290.8 L141.0,290.8 L141.6,290.8 L142.3,290.8 L143.0,290.8 L143.7,290.8 L144.4,290.8 L145.0,290.8 L145.7,290.8 L146.4,290.8 L147.1,290.8 L147.8,290.8 L148.4,290.8 L149.1,290.8 L149.8,290.8 L150.5,290.8 L151.2,290.8 L151.8,290.8 L152.5,290.8 L153.2,290.8 L153.9,290.8 L154.6,290.8 L155.2,290.8 L155.9,290.8 L156.6,290.8 L157.3,290.8 L157.9,290.8 L158.6,290.8 L159.3,290.8 L160.0,290.8 L160.7,290.8 L161.3,290.7 L162.0,290.7 L162.7,290.7 L163.4,290.7 L164.1,290.7 L164.7,290.7 L165.4,290.7 L166.1,290.6 L166.8,290.6 L167.5,290.6 L168.1,290.6 L168.8,290.5 L169.5,290.5 L170.2,290.5 L170.9,290.4 L171.5,290.4 L172.2,290.4 L172.9,290.3 L173.6,290.3 L174.3,290.2 L174.9,290.1 L175.6,290.1 L176.3,290.0 L177.0,289.9 L177.6,289.8 L178.3,289.8 L179.0,289.7 L179.7,289.5 L180.4,289.4 L181.0,289.3 L181.7,289.2 L182.4,289.0 L183.1,288.9 L183.8,288.7 L184.4,288.5 L185.1,288.3 L185.8,288.1 L186.5,287.9 L187.2,287.6 L187.8,287.4 L188.5,287.1 L189.2,286.8 L189.9,286.5 L190.6,286.2 L191.2,285.8 L191.9,285.4 L192.6,285.0 L193.3,284.5 L194.0,284.1 L194.6,283.6 L195.3,283.0 L196.0,282.5 L196.7,281.9 L197.3,281.3 L198.0,280.6 L198.7,279.9 L199.4,279.1 L200.1,278.3 L200.7,277.5 L201.4,276.6 L202.1,275.7 L202.8,274.7 L203.5,273.7 L204.1,272.6 L204.8,271.5 L205.5,270.3 L206.2,269.0 L206.9,267.7 L207.5,266.3 L208.2,264.9 L208.9,263.4 L209.6,261.8 L210.3,260.2 L210.9,258.5 L211.6,256.7 L212.3,254.9 L213.0,253.0 L213.7,251.0 L214.3,248.9 L215.0,246.7 L215.7,244.5 L216.4,242.2 L217.0,239.8 L217.7,237.4 L218.4,234.9 L219.1,232.2 L219.8,229.6 L220.4,226.8 L221.1,223.9 L221.8,221.0 L222.5,218.0 L223.2,214.9 L223.8,211.8 L224.5,208.6 L225.2,205.3 L225.9,201.9 L226.6,198.5 L227.2,195.0 L227.9,191.5 L228.6,187.8 L229.3,184.2 L230.0,180.5 L230.6,176.7 L231.3,172.9 L232.0,169.0 L232.7,165.1 L233.4,161.2 L234.0,157.3 L234.7,153.3 L235.4,149.3 L236.1,145.3 L236.7,141.3 L237.4,137.3 L238.1,133.3 L238.8,129.3 L239.5,125.3 L240.1,121.3 L240.8,117.4 L241.5,113.5 L242.2,109.6 L242.9,105.8 L243.5,102.1 L244.2,98.4 L244.9,94.8 L245.6,91.2 L246.3,87.7 L246.9,84.4 L247.6,81.1 L248.3,77.9 L249.0,74.8 L249.7,71.8 L250.3,69.0 L251.0,66.3 L251.7,63.7 L252.4,61.3 L253.1,59.0 L253.7,56.8 L254.4,54.9 L255.1,53.1 L255.8,51.5 L256.4,50.1 L257.1,48.9 L257.8,48.0 L258.5,47.5 L259.2,47.3 L259.8,47.5 L260.5,48.0 L261.2,48.9 L261.9,50.1 L262.6,51.5 L263.2,53.1 L263.9,54.9 L264.6,56.8 L265.3,59.0 L266.0,61.3 L266.6,63.7 L267.3,66.3 L268.0,69.0 L268.7,71.8 L269.4,74.8 L270.0,77.9 L270.7,81.1 L271.4,84.4 L272.1,87.7 L272.8,91.2 L273.4,94.8 L274.1,98.4 L274.8,102.1 L275.5,105.8 L276.1,109.6 L276.8,113.5 L277.5,117.4 L278.2,121.3 L278.9,125.3 L279.5,129.3 L280.2,133.3 L280.9,137.3 L281.6,141.3 L282.3,145.3 L282.9,149.3 L283.6,153.3 L284.3,157.3 L285.0,161.2 L285.7,165.1 L286.3,169.0 L287.0,172.9 L287.7,176.7 L288.4,180.5 L289.1,184.2 L289.7,187.8 L290.4,191.5 L291.1,195.0 L291.8,198.5 L292.5,201.9 L293.1,205.3 L293.8,208.6 L294.5,211.8 L295.2,214.9 L295.8,218.0 L296.5,221.0 L297.2,223.9 L297.9,226.8 L298.6,229.6 L299.2,232.2 L299.9,234.9 L300.6,237.4 L301.3,239.8 L302.0,242.2 L302.6,244.5 L303.3,246.7 L304.0,248.9 L304.7,251.0 L305.4,253.0 L306.0,254.9 L306.7,256.7 L307.4,258.5 L308.1,260.2 L308.8,261.8 L309.4,263.4 L310.1,264.9 L310.8,266.3 L311.5,267.7 L312.2,269.0 L312.8,270.3 L313.5,271.5 L314.2,272.6 L314.9,273.7 L315.5,274.7 L316.2,275.7 L316.9,276.6 L317.6,277.5 L318.3,278.3 L318.9,279.1 L319.6,279.9 L320.3,280.6 L321.0,281.3 L321.7,281.9 L322.3,282.5 L323.0,283.0 L323.7,283.6 L324.4,284.1 L325.1,284.5 L325.7,285.0 L326.4,285.4 L327.1,285.8 L327.8,286.2 L328.5,286.5 L329.1,286.8 L329.8,287.1 L330.5,287.4 L331.2,287.6 L331.9,287.9 L332.5,288.1 L333.2,288.3 L333.9,288.5 L334.6,288.7 L335.2,288.9 L335.9,289.0 L336.6,289.2 L337.3,289.3 L338.0,289.4 L338.6,289.5 L339.3,289.7 L340.0,289.8 L340.7,289.8 L341.4,289.9 L342.0,290.0 L342.7,290.1 L343.4,290.1 L344.1,290.2 L344.8,290.3 L345.4,290.3 L346.1,290.4 L346.8,290.4 L347.5,290.4 L348.2,290.5 L348.8,290.5 L349.5,290.5 L350.2,290.6 L350.9,290.6 L351.5,290.6 L352.2,290.6 L352.9,290.7 L353.6,290.7 L354.3,290.7 L354.9,290.7 L355.6,290.7 L356.3,290.7 L357.0,290.7 L357.7,290.8 L358.3,290.8 L359.0,290.8 L359.7,290.8 L360.4,290.8 L361.1,290.8 L361.7,290.8 L362.4,290.8 L363.1,290.8 L363.8,290.8 L364.5,290.8 L365.1,290.8 L365.8,290.8 L366.5,290.8 L367.2,290.8 L367.9,290.8 L368.5,290.8 L369.2,290.8 L369.9,290.8 L370.6,290.8 L371.2,290.8 L371.9,290.8 L372.6,290.8 L373.3,290.8 L374.0,290.8 L374.6,290.8 L375.3,290.8 L376.0,290.8 L376.7,290.8 L377.4,290.8 L378.0,290.8 L378.7,290.8 L379.4,290.8 L380.1,290.8 L380.8,290.8 L381.4,290.8 L382.1,290.8 L382.8,290.8 L383.5,290.8 L384.2,290.8 L384.8,290.8 L385.5,290.8 L386.2,290.8 L386.9,290.8 L387.6,290.8 L388.2,290.8 L388.9,290.8 L389.6,290.8 L390.3,290.8 L390.9,290.8 L391.6,290.8 L392.3,290.8 L393.0,290.8 L393.7,290.8 L394.3,290.8 L395.0,290.8 L395.7,290.8 L396.4,290.8 L397.1,290.8 L397.7,290.8 L398.4,290.8 L399.1,290.8 L399.8,290.8 L400.5,290.8 L401.1,290.8 L401.8,290.8 L402.5,290.8 L403.2,290.8 L403.9,290.8 L404.5,290.8 L405.2,290.8 L405.9,290.8 L406.6,290.8 L407.3,290.8 L407.9,290.8 L408.6,290.8 L409.3,290.8 L410.0,290.8 L410.6,290.8 L411.3,290.8 L412.0,290.8 L412.7,290.8 L413.4,290.8 L414.0,290.8 L414.7,290.8 L415.4,290.8 L416.1,290.8 L416.8,290.8 L417.4,290.8 L418.1,290.8 L418.8,290.8 L418.9,290.8 L419.1,290.8 L419.2,290.8 L419.3,290.8 L419.4,290.8 L419.5,290.8 L419.6,290.8 L419.7,290.8 L419.8,290.8 L420.0,290.8 L420.1,290.8 L420.2,290.8 L420.2,290.8 L420.3,290.8 L420.5,290.8 L420.6,290.8 L420.7,290.8 L420.8,290.8 L420.9,290.8 L421.0,290.8 L421.1,290.8 L421.3,290.8 L421.4,290.8 L421.5,290.8 L421.5,290.8 L421.6,290.8 L421.8,290.8 L421.9,290.8 L422.0,290.8 L422.2,290.8 L422.2,290.8 L422.3,290.8 L422.4,290.8 L422.5,290.8 L422.7,290.8 L422.8,290.8 L422.9,290.8 L422.9,290.8 L423.1,290.8 L423.2,290.8 L423.3,290.8 L423.4,290.8 L423.6,290.8 L423.6,290.8 L423.7,290.8 L423.8,290.8 L424.0,290.8 L424.1,290.8 L424.2,290.8 L424.2,290.8 L424.3,290.8 L424.5,290.8 L424.6,290.8 L424.7,290.8 L424.9,290.8 L424.9,290.8 L425.0,290.8 L425.1,290.8 L425.2,290.8 L425.4,290.8 L425.5,290.8 L425.6,290.8 L425.6,290.8 L425.8,290.8 L425.9,290.8 L426.0,290.8 L426.2,290.8 L426.3,290.8 L426.3,290.8 L426.4,290.8 L426.5,290.8 L426.7,290.8 L426.8,290.8 L426.9,290.8 L427.0,290.8 L427.1,290.8 L427.2,290.8 L427.3,290.8 L427.4,290.8 L427.6,290.8 L427.6,290.8 L427.7,290.8 L427.8,290.8 L428.0,290.8 L428.1,290.8 L428.2,290.8 L428.3,290.8 L428.3,290.8 L428.5,290.8 L428.6,290.8 L428.7,290.8 L428.9,290.8 L429.0,290.8" stroke="#808000" stroke-width="1.7" stroke-dasharray="10 3.1 1.8 3 1.8 2.8" stroke-dashoffset="0.3"/>
</g>
<g fill="none" stroke-width="1.4">
<path d="M331.0,30 L365.0,30" stroke="#000"/>
<path d="M331.0,48 L360.2,48" stroke="#ff0000" stroke-dasharray="6.1 5.2"/>
<path d="M331.0,66.4 L365.0,66.4" stroke="#008080" stroke-dasharray="7.3 2.3 2 2.5"/>
<path d="M331.0,84.4 L363,84.4" stroke="#808000" stroke-dasharray="5.6 2.4 2 2.5 2 2.35"/>
</g>
<g font-family="Liberation Sans, sans-serif" font-weight="bold" font-size="13px" fill="#000">
<text x="82.4" y="294.04" text-anchor="end">0</text>
<text x="82.4" y="252.39" text-anchor="end">1</text>
<text x="82.4" y="210.75" text-anchor="end">2</text>
<text x="82.4" y="169.10" text-anchor="end">3</text>
<text x="82.4" y="127.45" text-anchor="end">4</text>
<text x="82.4" y="85.81" text-anchor="end">5</text>
<text x="82.4" y="44.16" text-anchor="end">6</text>
<text x="89.34" y="308.2" text-anchor="middle">0,0</text>
<text x="157.27" y="308.2" text-anchor="middle">0,2</text>
<text x="225.20" y="308.2" text-anchor="middle">0,4</text>
<text x="293.13" y="308.2" text-anchor="middle">0,6</text>
<text x="361.06" y="308.2" text-anchor="middle">0,8</text>
<text x="428.99" y="308.2" text-anchor="middle">1,0</text>
</g>
<text x="259.4" y="332.4" text-anchor="middle" font-family="Liberation Sans, sans-serif" font-weight="bold" font-size="14px">X</text>
<g transform="translate(53.3,183) rotate(-90)">
<text x="0" y="0" font-size="14px"><tspan font-family="Liberation Serif, serif" font-size="15px">ϕ</tspan><tspan dx="0.6" font-family="Liberation Sans, sans-serif" font-weight="bold">(x)</tspan></text>
</g>
<g font-family="Liberation Serif, serif" font-size="14px">
<text x="368.3" y="35" font-size="15px">π</text>
<text x="368.3" y="52.5">η</text>
<text x="368.3" y="70.8">η<tspan font-family="Liberation Sans, sans-serif" font-weight="bold" font-size="13px" dx="1.3" dy="-0.7">'</tspan></text>
<text x="368.3" y="89">η<tspan font-family="Liberation Sans, sans-serif" font-weight="bold" font-size="11px" dy="6.1" dx="0.8">c</tspan></text>
</g>
</svg>
</body></html>
